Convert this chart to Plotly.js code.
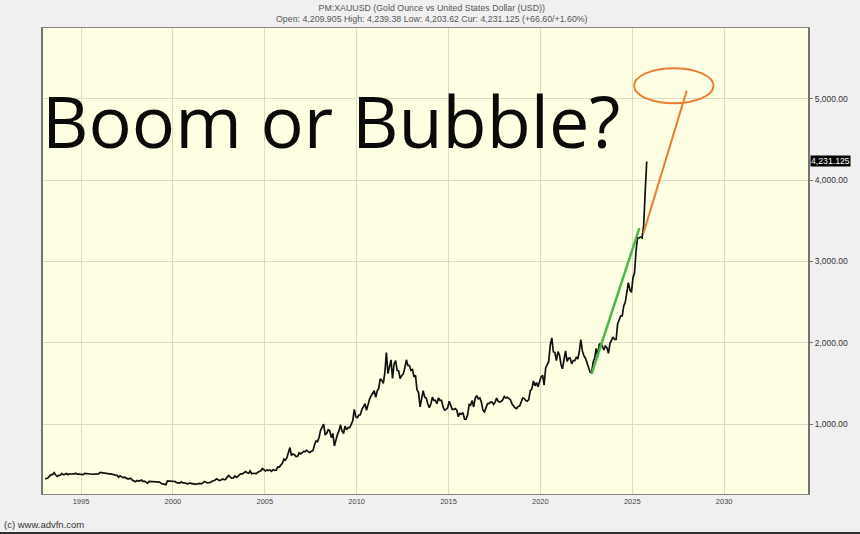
<!DOCTYPE html>
<html>
<head>
<meta charset="utf-8">
<script src="https://cdn.plot.ly/plotly-3.0.1.min.js"></script>
<style>
  html, body { margin: 0; padding: 0; background: #2e2e2e; }
  #chart { width: 860px; height: 532px; }
</style>
</head>
<body>
<div id="chart"></div>
<script>
// ---- Data ----
const seriesStart = { year: 1993, month: 1 };
// Monthly gold price, USD per ounce, Jan 1993 .. Oct 2025
const goldMonthly = [
  330, 327, 337, 355, 378, 378, 401, 372, 355, 369, 371, 391,
  378, 381, 391, 376, 387, 385, 384, 386, 394, 383, 383, 383,
  375, 377, 392, 389, 385, 387, 384, 382, 384, 382, 387, 387,
  405, 401, 396, 392, 391, 382, 386, 387, 379, 379, 371, 369,
  345, 362, 349, 340, 345, 334, 326, 325, 332, 311, 296, 289,
  303, 297, 301, 310, 294, 296, 288, 273, 294, 292, 294, 288,
  287, 287, 279, 286, 268, 261, 255, 254, 300, 299, 291, 290,
  287, 293, 278, 275, 272, 288, 276, 277, 273, 264, 270, 274,
  265, 267, 258, 264, 267, 270, 265, 273, 293, 279, 275, 279,
  282, 296, 303, 308, 326, 318, 304, 312, 323, 316, 318, 347,
  368, 347, 334, 336, 361, 346, 354, 376, 388, 386, 398, 415,
  400, 395, 423, 388, 393, 395, 391, 408, 415, 425, 453, 438,
  422, 436, 428, 435, 417, 437, 430, 433, 473, 470, 495, 517,
  568, 556, 582, 654, 710, 613, 632, 623, 599, 603, 646, 632,
  650, 664, 662, 678, 659, 650, 665, 672, 743, 789, 783, 834,
  923, 971, 1000, 871, 885, 930, 918, 833, 884, 730, 814, 870,
  919, 990, 917, 883, 975, 930, 955, 955, 995, 1040, 1180, 1090,
  1078, 1110, 1113, 1180, 1210, 1250, 1170, 1245, 1307, 1346, 1390, 1410,
  1330, 1410, 1439, 1556, 1536, 1500, 1628, 1880, 1620, 1720, 1790, 1560,
  1740, 1780, 1662, 1651, 1560, 1598, 1614, 1690, 1790, 1720, 1720, 1660,
  1670, 1580, 1600, 1420, 1390, 1210, 1320, 1410, 1330, 1320, 1250, 1200,
  1250, 1330, 1290, 1290, 1250, 1320, 1290, 1290, 1210, 1170, 1180, 1200,
  1280, 1210, 1180, 1180, 1190, 1170, 1090, 1130, 1120, 1140, 1060, 1060,
  1110, 1240, 1230, 1290, 1210, 1320, 1350, 1310, 1320, 1270, 1170, 1150,
  1210, 1250, 1250, 1270, 1270, 1240, 1270, 1320, 1280, 1270, 1280, 1300,
  1340, 1320, 1330, 1310, 1300, 1250, 1220, 1200, 1190, 1215, 1220, 1280,
  1320, 1315, 1290, 1280, 1300, 1410, 1430, 1530, 1470, 1510, 1460, 1520,
  1580, 1600, 1480, 1690, 1730, 1770, 1970, 2060, 1890, 1880, 1780, 1890,
  1850, 1730, 1680, 1770, 1900, 1770, 1810, 1810, 1740, 1780, 1780, 1820,
  1800, 1900, 2040, 1900, 1840, 1810, 1760, 1710, 1640, 1630, 1760, 1810,
  1930, 1830, 1980, 1990, 1960, 1910, 1960, 1940, 1870, 1990, 2040, 2070,
  2040, 2040, 2230, 2290, 2330, 2330, 2450, 2500, 2630, 2740, 2650, 2620,
  2800, 2860, 3120, 3290, 3290, 3300, 3290, 3440, 3860, 4231
];
// Hand-drawn green trend line (date, price)
const greenTrendX = ['2022-10-19', '2025-05-22'];
const greenTrendY = [1624, 3411];
// Hand-drawn orange projection line
const orangeTrendX = ['2025-08-11', '2027-12-20'];
const orangeTrendY = [3349, 5102];
// Orange ellipse target (date range, price range)
const targetX = ['2025-02-06', '2029-06-03'];
const targetY = [4947, 5378];
// Axis ticks
const yearTicks = [1995, 2000, 2005, 2010, 2015, 2020, 2025, 2030];
const priceTicks = [1000, 2000, 3000, 4000, 5000];
const titleLines = [
  'PM:XAUUSD (Gold Ounce vs United States Dollar (USD))',
  'Open: 4,209.905 High: 4,239.38 Low: 4,203.62 Cur: 4,231.125 (+66.60/+1.60%)'
];
const curLabel = '4,231.125';
const headline = 'Boom or Bubble?';
const credit = '(c) www.advfn.com';

// ---- Build ----
const pad = n => (n < 10 ? '0' : '') + n;
const goldDates = goldMonthly.map((_, i) => {
  const m0 = seriesStart.month - 1 + i;
  const y = seriesStart.year + Math.floor(m0 / 12);
  const m = (m0 % 12) + 1;
  return y + '-' + pad(m) + '-15';
});

const W = 860, H = 532;
const M = { l: 43, r: 52, t: 28, b: 38 };
const PW = W - M.l - M.r, PH = H - M.t - M.b;
const px = x => (x - M.l) / PW;           // pixel -> paper x
const py = y => (H - M.b - y) / PH;       // pixel -> paper y

const traces = [
  {
    x: goldDates, y: goldMonthly, type: 'scatter', mode: 'lines',
    line: { color: '#111111', width: 1.7 }, hoverinfo: 'x+y'
  },
  {
    x: greenTrendX, y: greenTrendY, type: 'scatter', mode: 'lines',
    line: { color: '#4cb848', width: 2.5 }
  },
  {
    x: orangeTrendX, y: orangeTrendY, type: 'scatter', mode: 'lines',
    line: { color: '#ed7d31', width: 2 }
  }
];

const smallFont = 'Liberation Sans, Arial, sans-serif';

const layout = {
  width: W, height: H,
  margin: M,
  paper_bgcolor: '#f0f0f0',
  plot_bgcolor: '#ffffe3',
  showlegend: false,
  xaxis: {
    type: 'date',
    range: ['1992-12-06', '2034-07-26'],
    tickvals: yearTicks.map(y => y + '-01-01'),
    ticktext: yearTicks.map(String),
    showgrid: true, gridcolor: '#dcdcc6', gridwidth: 1,
    showline: true, mirror: true, linecolor: '#85857c', linewidth: 1,
    ticks: '', zeroline: false,
    tickfont: { family: smallFont, size: 7.5, color: '#444444' }
  },
  yaxis: {
    side: 'right',
    range: [139, 5873],
    tickvals: priceTicks,
    tickformat: ',.2f',
    showgrid: true, gridcolor: '#dcdcc6', gridwidth: 1,
    showline: true, mirror: true, linecolor: '#74746c', linewidth: 2,
    ticks: 'outside', ticklen: 3, tickcolor: '#74746c',
    zeroline: false,
    tickfont: { family: smallFont, size: 8.5, color: '#333333' }
  },
  shapes: [
    {
      type: 'circle', xref: 'x', yref: 'y',
      x0: targetX[0], x1: targetX[1], y0: targetY[0], y1: targetY[1],
      line: { color: '#ed7d31', width: 2 }
    }
  ],
  annotations: [
    {
      text: titleLines.join('<br>'), xref: 'paper', yref: 'paper',
      x: px(432), y: py(1), xanchor: 'center', yanchor: 'top',
      showarrow: false, align: 'center',
      font: { family: smallFont, size: 8.8, color: '#555555' }
    },
    {
      text: headline, xref: 'paper', yref: 'paper',
      x: px(40), y: py(120), xanchor: 'left', yanchor: 'middle',
      showarrow: false,
      font: { family: 'Open Sans, sans-serif', size: 72, color: '#0a0a0a' }
    },
    {
      text: curLabel, xref: 'paper', yref: 'y',
      x: 1, y: goldMonthly[goldMonthly.length - 1], xanchor: 'left', yanchor: 'middle',
      xshift: 2, showarrow: false, bgcolor: '#000000', borderpad: 0,
      font: { family: smallFont, size: 8.7, color: '#ffffff' }
    },
    {
      text: credit, xref: 'paper', yref: 'paper',
      x: px(2), y: py(524), xanchor: 'left', yanchor: 'middle',
      showarrow: false,
      font: { family: smallFont, size: 9.5, color: '#333333' }
    }
  ]
};

Plotly.newPlot('chart', traces, layout, { displayModeBar: false, staticPlot: true });
</script>
</body>
</html>
